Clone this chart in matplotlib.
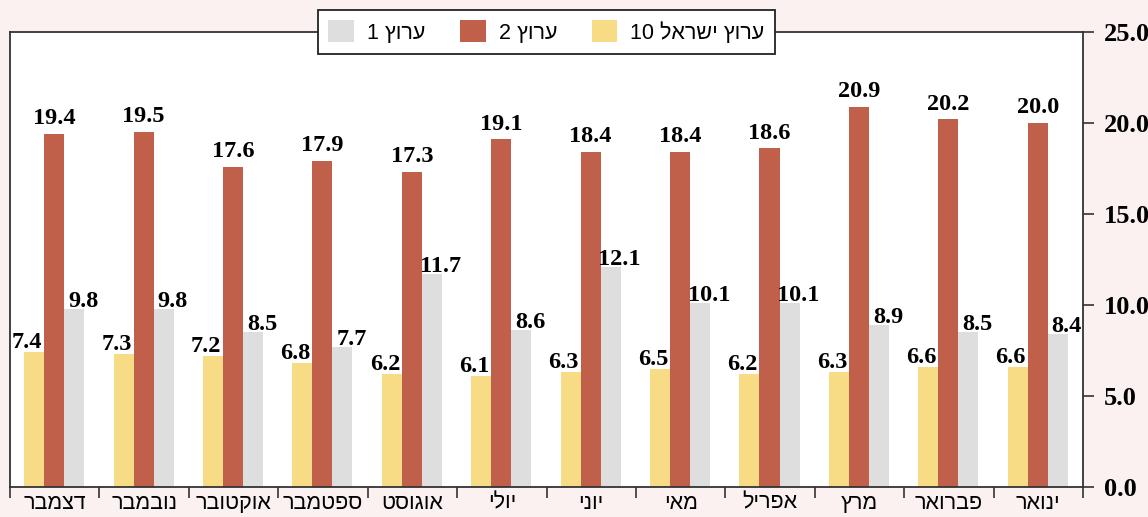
"""Monthly ratings of three Israeli TV channels, grouped bar chart."""
import re

import numpy as np
import matplotlib.pyplot as plt
from matplotlib.patches import Patch
from matplotlib.ticker import FixedLocator, NullFormatter

# months as shown, left to right (Hebrew chart reads right to left)
months = ['דצמבר', 'נובמבר', 'אוקטובר', 'ספטמבר', 'אוגוסט', 'יולי',
          'יוני', 'מאי', 'אפריל', 'מרץ', 'פברואר', 'ינואר']

series_names = ['ערוץ ישראל 10', 'ערוץ 2', 'ערוץ 1']
channel_10 = [7.4, 7.3, 7.2, 6.8, 6.2, 6.1, 6.3, 6.5, 6.2, 6.3, 6.6, 6.6]
channel_2 = [19.4, 19.5, 17.6, 17.9, 17.3, 19.1, 18.4, 18.4, 18.6, 20.9, 20.2, 20.0]
channel_1 = [9.8, 9.8, 8.5, 7.7, 11.7, 8.6, 12.1, 10.1, 10.1, 8.9, 8.5, 8.4]

y_ticks = [0, 5, 10, 15, 20, 25]

colors = ['#f7dc85', '#c0604a', '#dedede']
bg = '#faf1f0'


def vis(s):
    """Reverse Hebrew text for LTR rendering, keeping digit runs intact."""
    r = s[::-1]
    return re.sub(r'\d+', lambda m: m.group(0)[::-1], r)


fig = plt.figure(figsize=(11.48, 5.17), dpi=100, facecolor=bg)
ax = fig.add_axes([10 / 1148, 30 / 517, 1073 / 1148, 455 / 517])
ax.set_facecolor('white')

x = np.arange(len(months))
width = 0.224
shift = -0.006
offsets = [shift - width, shift, shift + width]
series = [channel_10, channel_2, channel_1]
# label offsets in points (dx, dy) per series
label_off = [(-5, 3), (0, 7), (6.5, 1.5)]

num_font = dict(family='Liberation Serif', weight='bold', size=17.5)

for vals, off, col, (dx, dy) in zip(series, offsets, colors, label_off):
    bars = ax.bar(x + off, vals, width=width, color=col, linewidth=0, zorder=2)
    for b, v in zip(bars, vals):
        ax.annotate(f'{v:.1f}', (b.get_x() + b.get_width() / 2, v),
                    xytext=(dx, dy), textcoords='offset points',
                    ha='center', va='baseline', **num_font)

ax.set_xlim(-0.5, len(months) - 0.5)
ax.set_ylim(0, 25)

# y axis on the right
ax.yaxis.tick_right()
ax.set_yticks(y_ticks)
ax.set_yticklabels([f'{t:.1f}' for t in y_ticks], fontfamily='Liberation Serif',
                   fontweight='bold', fontsize=19)
ax.tick_params(axis='y', direction='out', length=8, width=1.2, color='#333333', pad=7)

# x axis: labels at centres, tick marks at group boundaries
ax.set_xticks(x)
ax.set_xticklabels([vis(m) for m in months], fontfamily='Liberation Sans', fontsize=15.5)
ax.tick_params(axis='x', which='major', length=0, pad=4)
ax.xaxis.set_minor_locator(FixedLocator(np.arange(-0.5, len(months), 1.0)))
ax.xaxis.set_minor_formatter(NullFormatter())
ax.tick_params(axis='x', which='minor', direction='out', length=8, width=1.2, color='#333333')

for side in ['left', 'right', 'top', 'bottom']:
    ax.spines[side].set_color('#333333')
    ax.spines[side].set_linewidth(1.3)

# legend over the top spine, order as shown: gray, red, yellow
handles = [Patch(facecolor=colors[i], label=vis(series_names[i])) for i in (2, 1, 0)]
leg = ax.legend(handles=handles, loc='center', bbox_to_anchor=(0.5, 1.0), ncol=3,
                frameon=True, fancybox=False, edgecolor='#222222', framealpha=1,
                prop=dict(family='Liberation Sans', size=15.5), handlelength=1.2,
                handleheight=1.2, columnspacing=1.6, handletextpad=0.6,
                borderpad=0.5, borderaxespad=0)
leg.get_frame().set_linewidth(1.3)
leg.set_zorder(10)

fig.savefig('out.png', dpi=100, facecolor=bg)
